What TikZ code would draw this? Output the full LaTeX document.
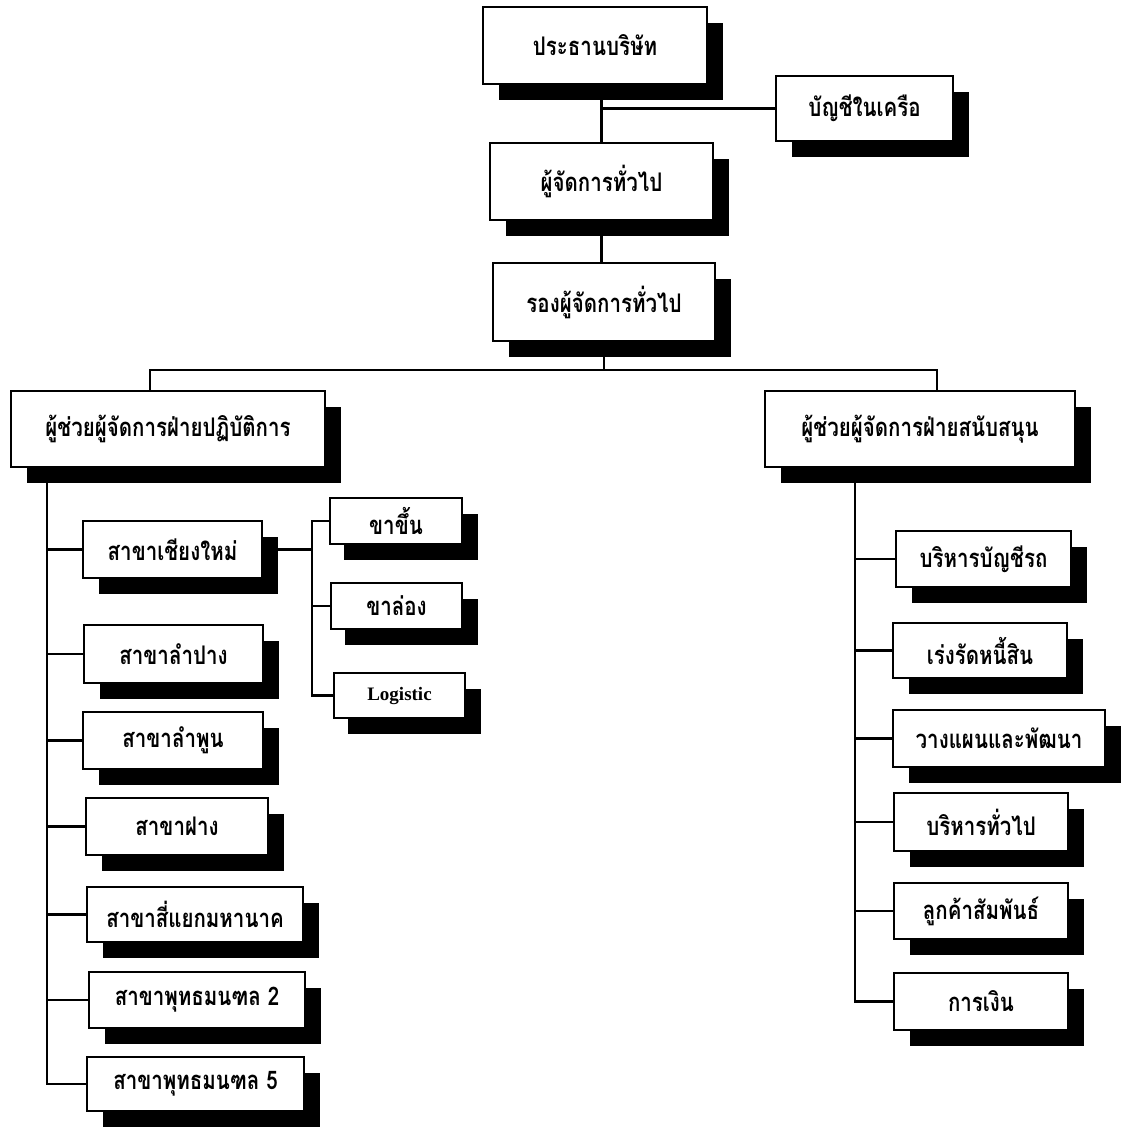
\documentclass[tikz,border=0pt]{standalone}
\usepackage{fontspec}
\usepackage{graphicx}
\newfontfamily\thaifont[Script=Thai]{Loma}
\newfontfamily\latinserif{Liberation Serif}
\newcommand\tall[1]{\scalebox{1}[1.25]{#1}}
\usetikzlibrary{shadows}
\begin{document}
\begin{tikzpicture}[x=1pt,y=-1pt,
  box/.style={draw=black, line width=2.2pt, fill=white, inner sep=0pt,
    font=\thaifont\bfseries\fontsize{20.5}{24}\selectfont,
    general shadow={fill=black, shadow xshift=16pt, shadow yshift=-16pt}},
  small/.style={general shadow={fill=black, shadow xshift=14pt, shadow yshift=-16pt}},
  link/.style={draw=black, line width=2.2pt}]
\useasboundingbox (0,0) rectangle (1126,1128);
\fill[white] (0,0) rectangle (1126,1128);
% top chain
\node[box, minimum width=224pt, minimum height=77pt] (P) at (595,45.5) {\tall{ประธานบริษัท}};
\node[box, minimum width=177pt, minimum height=65pt] (A) at (864.5,108.5) {\tall{บัญชีในเครือ}};
\node[box, minimum width=223pt, minimum height=77pt] (G) at (601.5,181.5) {\tall{ผู้จัดการทั่วไป}};
\node[box, minimum width=222pt, minimum height=78pt] (D) at (604,302) {\tall{รองผู้จัดการทั่วไป}};
\node[box, minimum width=314pt, minimum height=76pt] (L) at (168,429) {\tall{ผู้ช่วยผู้จัดการฝ่ายปฏิบัติการ}};
\node[box, minimum width=310pt, minimum height=76pt] (R) at (920,429) {\tall{ผู้ช่วยผู้จัดการฝ่ายสนับสนุน}};
% left branches
\node[box, minimum width=179pt, minimum height=57pt] (b1) at (172.5,549.5) {\tall{สาขาเชียงใหม่}};
\node[box, minimum width=179pt, minimum height=58pt] (b2) at (173.5,654) {\tall{สาขาลำปาง}};
\node[box, minimum width=180pt, minimum height=57pt] (b3) at (173,740.5) {\tall{สาขาลำพูน}};
\node[box, minimum width=182pt, minimum height=57pt] (b4) at (177,826.5) {\tall{สาขาฝาง}};
\node[box, minimum width=216pt, minimum height=55pt] (b5) at (195,914.5) {\tall{สาขาสี่แยกมหานาค}};
\node[box, minimum width=216pt, minimum height=56pt] (b6) at (197,1000) {\tall{สาขาพุทธมนฑล 2}};
\node[box, minimum width=217pt, minimum height=54pt] (b7) at (195.5,1084) {\tall{สาขาพุทธมนฑล 5}};
% sub boxes
\node[box, small, minimum width=132pt, minimum height=46pt] (s1) at (396,521) {\tall{ขาขึ้น}};
\node[box, small, minimum width=131pt, minimum height=46pt] (s2) at (396.5,606) {\tall{ขาล่อง}};
\node[box, small, minimum width=131pt, minimum height=45pt, font=\latinserif\bfseries\fontsize{19}{22}\selectfont] (s3) at (399.5,695.5) {Logistic};
% right branches
\node[box, minimum width=175pt, minimum height=56pt] (r1) at (983.5,559) {\tall{บริหารบัญชีรถ}};
\node[box, minimum width=174pt, minimum height=55pt] (r2) at (980,650.5) {\tall{เร่งรัดหนี้สิน}};
\node[box, minimum width=212pt, minimum height=57pt] (r3) at (999,738.5) {\tall{วางแผนและพัฒนา}};
\node[box, minimum width=174pt, minimum height=58pt] (r4) at (981,822) {\tall{บริหารทั่วไป}};
\node[box, minimum width=174pt, minimum height=56pt] (r5) at (981,911) {\tall{ลูกค้าสัมพันธ์}};
\node[box, minimum width=174pt, minimum height=57pt] (r6) at (981,1001.5) {\tall{การเงิน}};
% rail coordinates
\coordinate (hl) at (150,370);
\coordinate (hr) at (937,370);
\coordinate (lr) at (47,0);
\coordinate (sr) at (312,0);
\coordinate (rr) at (855,0);
% connectors
\draw[link] (G.north) -- (G.north |- P.south);
\draw[link] (G.north |- A.west) -- (A.west);
\draw[link] (G.south) -- (G.south |- D.north);
\draw[link] (D.south) -- (D.south |- hl);
\draw[link] (L.north -| hl) -- (hl) -- (hr) -- (R.north -| hr);
\draw[link] (L.south -| lr) -- (lr |- b7.west) -- (b7.west);
\foreach \b in {b1,b2,b3,b4,b5,b6} \draw[link] (lr |- \b.west) -- (\b.west);
\draw[link] (b1.east) -- (b1.east -| sr);
\draw[link] (s1.west) -- (sr |- s1.west) -- (sr |- s3.west) -- (s3.west);
\draw[link] (sr |- s2.west) -- (s2.west);
\draw[link] (R.south -| rr) -- (rr |- r6.west) -- (r6.west);
\foreach \r in {r1,r2,r3,r4,r5} \draw[link] (rr |- \r.west) -- (\r.west);
\end{tikzpicture}
\end{document}
